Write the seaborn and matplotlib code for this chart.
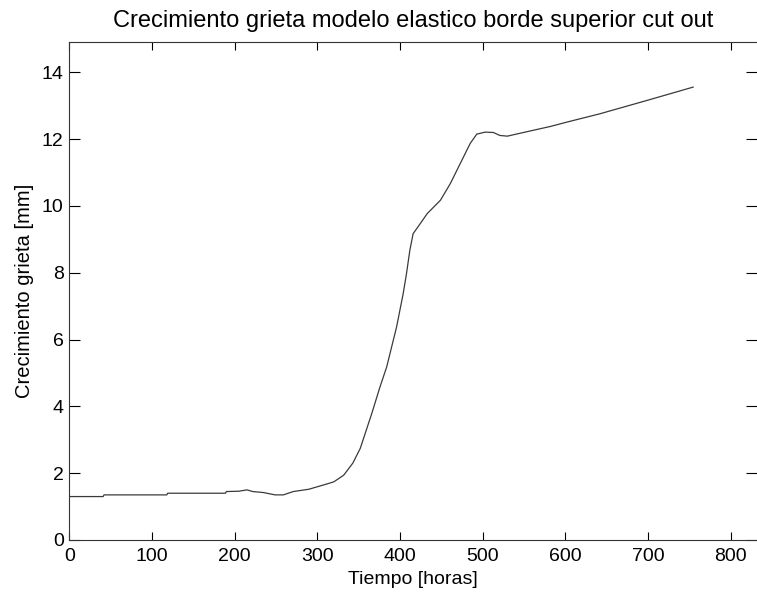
import matplotlib
matplotlib.use("Agg")
import matplotlib.pyplot as plt
import seaborn as sns
import pandas as pd

# Values
tiempo = [0, 41, 42, 118, 119, 189, 190, 205, 215, 222, 235, 249, 259, 271,
          290, 312, 320, 332, 343, 352, 358, 366, 376, 384, 390, 396, 400,
          404, 408, 412, 416, 424, 433, 449, 461, 471, 479, 485, 493, 503,
          513, 521, 530, 546, 582, 602, 642, 699, 755]
grieta = [1.30, 1.30, 1.35, 1.35, 1.40, 1.40, 1.45, 1.46, 1.50, 1.45, 1.42,
          1.35, 1.35, 1.45, 1.52, 1.68, 1.74, 1.94, 2.30, 2.74, 3.19, 3.79,
          4.59, 5.18, 5.78, 6.38, 6.88, 7.38, 7.98, 8.67, 9.17, 9.45, 9.77,
          10.17, 10.67, 11.17, 11.57, 11.87, 12.15, 12.21, 12.20, 12.11,
          12.09, 12.18, 12.38, 12.51, 12.76, 13.16, 13.56]

x_ticks = [0, 100, 200, 300, 400, 500, 600, 700, 800]
y_ticks = [0, 2, 4, 6, 8, 10, 12, 14]

df = pd.DataFrame({"tiempo": tiempo, "grieta": grieta})

sns.set_style("ticks")
plt.rcParams["font.family"] = ["Liberation Sans", "DejaVu Sans"]

fig = plt.figure(figsize=(7.57, 5.93), dpi=100)
ax = fig.add_axes([0.0915, 0.0894, 0.9085, 0.8393])

sns.lineplot(data=df, x="tiempo", y="grieta", ax=ax, color="#3a3a3a",
             linewidth=0.9, estimator=None, sort=False)

ax.set_xlim(0, 832)
ax.set_ylim(0, 14.9)
ax.set_xticks(x_ticks)
ax.set_yticks(y_ticks)
ax.tick_params(direction="in", length=6, width=0.8, top=True, right=True,
               labelsize=14, colors="black", pad=6)
ax.tick_params(axis="y", right=True, length=8, pad=4)
for s in ax.spines.values():
    s.set_visible(True)
    s.set_linewidth(0.8)
    s.set_color("#333333")
# the original picture is cropped just before the right border
ax.spines["right"].set_visible(False)

ax.set_xlabel("Tiempo [horas]", fontsize=14, labelpad=4, color="black")
ax.set_ylabel("Crecimiento grieta [mm]", fontsize=14.5, labelpad=6,
              color="black")
ax.set_title("Crecimiento grieta modelo elastico borde superior cut out",
             fontsize=17, pad=11, color="black")

fig.savefig("out.png", dpi=100)
